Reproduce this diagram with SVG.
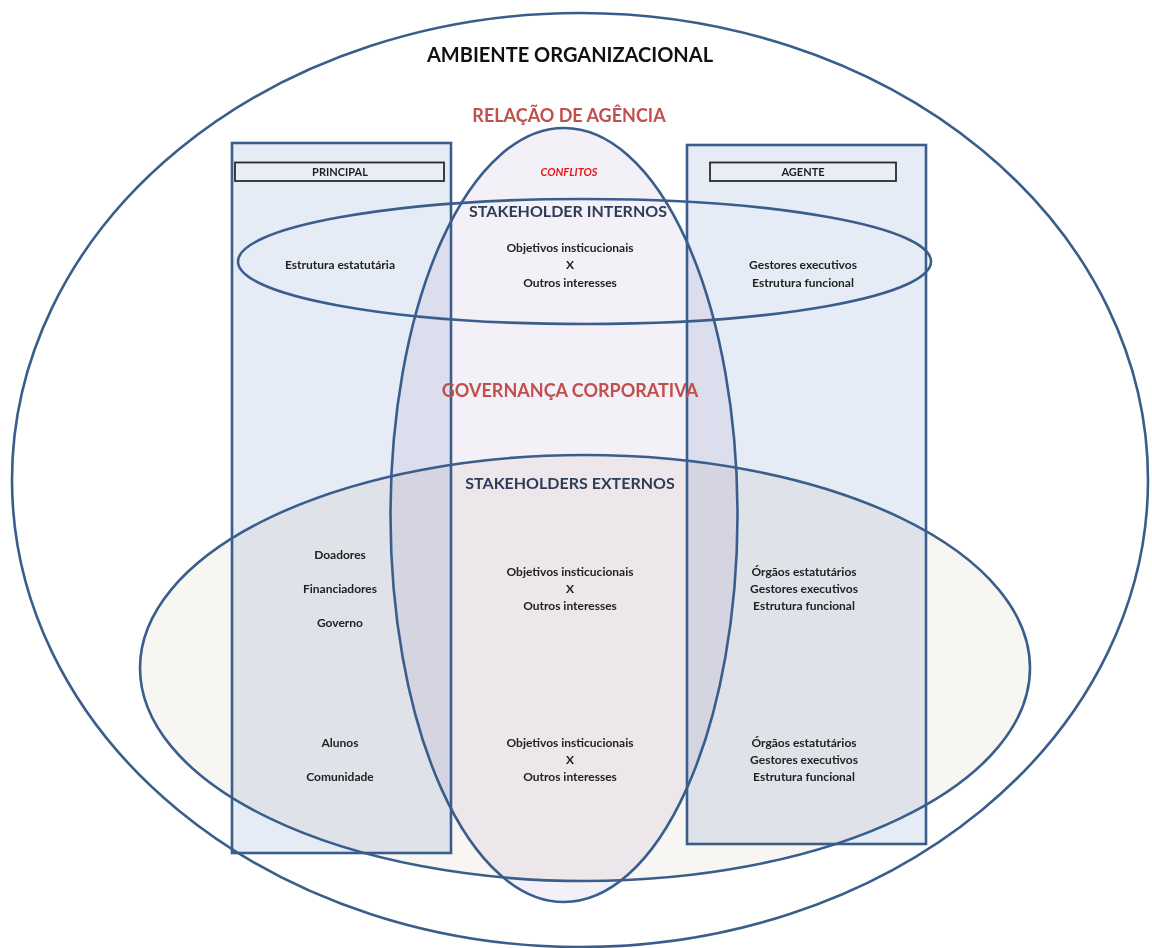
<svg xmlns="http://www.w3.org/2000/svg" width="1152" height="948" viewBox="0 0 1152 948">
  <style>
    .fillm { mix-blend-mode: multiply; stroke: none; }
    .edge { fill: none; stroke: #3a5e8c; stroke-width: 2.6; }
    .lbl { fill: #e9eef6; stroke: #2b2b2b; stroke-width: 1.8; }
    text { font-family: Lato, "Open Sans", "Liberation Sans", sans-serif; font-weight: 700; text-anchor: middle; }
    .body { font-size: 12px; fill: #222222; }
    .hdr { font-size: 11px; fill: #1e1e1e; }
    .title { font-size: 20px; fill: #111111; }
    .red { font-size: 18px; fill: #c0504d; }
    .sh { font-size: 16px; fill: #2e3c58; }
    .conf { font-size: 11px; fill: #e3171e; font-style: italic; }
  </style>

  <rect width="1152" height="948" fill="#ffffff"/>

  <!-- area fills (multiplied so overlaps darken) -->
  <g id="fills">
    <ellipse id="fill-ambiente" cx="580" cy="480" rx="568" ry="467" fill="#ffffff"/>
    <ellipse id="fill-externos" cx="585" cy="668" rx="445" ry="213" fill="#f8f6f3"/>
    <rect id="fill-principal" class="fillm" x="232" y="143" width="219" height="710" fill="#e6ecf5"/>
    <rect id="fill-agente" class="fillm" x="687" y="145" width="239" height="699" fill="#e6ecf5"/>
    <ellipse id="fill-governanca" class="fillm" cx="564" cy="515" rx="173.5" ry="387" fill="#f4f0f8"/>
  </g>

  <!-- outlines -->
  <g id="connectors">
    <ellipse id="ambiente" class="edge" cx="580" cy="480" rx="568" ry="467"/>
    <ellipse id="externos" class="edge" cx="585" cy="668" rx="445" ry="213"/>
    <rect id="principal" class="edge" x="232" y="143" width="219" height="710"/>
    <rect id="agente" class="edge" x="687" y="145" width="239" height="699"/>
    <ellipse id="governanca" class="edge" cx="564" cy="515" rx="173.5" ry="387"/>
    <ellipse id="internos" class="edge" cx="584.5" cy="261.5" rx="346.5" ry="62.5"/>
  </g>

  <g id="titles">
    <text class="title" x="570" y="62">AMBIENTE ORGANIZACIONAL</text>
    <text class="red" x="569" y="122">RELAÇÃO DE AGÊNCIA</text>
    <text class="conf" x="569" y="176">CONFLITOS</text>
    <text class="sh" x="568" y="217">STAKEHOLDER INTERNOS</text>
    <text class="red" x="570" y="397">GOVERNANÇA CORPORATIVA</text>
    <text class="sh" x="570" y="489">STAKEHOLDERS EXTERNOS</text>
  </g>

  <g id="node-principal-label">
    <rect class="lbl" x="235" y="162.5" width="209" height="18.5"/>
    <text class="hdr" x="340" y="176">PRINCIPAL</text>
  </g>
  <g id="node-agente-label">
    <rect class="lbl" x="710" y="162.5" width="186" height="18.5"/>
    <text class="hdr" x="803" y="176">AGENTE</text>
  </g>

  <g id="node-internos-principal">
    <text class="body" x="340" y="269">Estrutura estatutária</text>
  </g>
  <g id="node-internos-conflito">
    <text class="body" x="570" y="252">Objetivos insticucionais</text>
    <text class="body" x="570" y="269">X</text>
    <text class="body" x="570" y="287">Outros interesses</text>
  </g>
  <g id="node-internos-agente">
    <text class="body" x="803" y="269">Gestores executivos</text>
    <text class="body" x="803" y="287">Estrutura funcional</text>
  </g>

  <g id="node-externos-principal-1">
    <text class="body" x="340" y="559">Doadores</text>
    <text class="body" x="340" y="593">Financiadores</text>
    <text class="body" x="340" y="627">Governo</text>
  </g>
  <g id="node-externos-conflito-1">
    <text class="body" x="570" y="576">Objetivos insticucionais</text>
    <text class="body" x="570" y="593">X</text>
    <text class="body" x="570" y="610">Outros interesses</text>
  </g>
  <g id="node-externos-agente-1">
    <text class="body" x="804" y="576">Órgãos estatutários</text>
    <text class="body" x="804" y="593">Gestores executivos</text>
    <text class="body" x="804" y="610">Estrutura funcional</text>
  </g>

  <g id="node-externos-principal-2">
    <text class="body" x="340" y="747">Alunos</text>
    <text class="body" x="340" y="781">Comunidade</text>
  </g>
  <g id="node-externos-conflito-2">
    <text class="body" x="570" y="747">Objetivos insticucionais</text>
    <text class="body" x="570" y="764">X</text>
    <text class="body" x="570" y="781">Outros interesses</text>
  </g>
  <g id="node-externos-agente-2">
    <text class="body" x="804" y="747">Órgãos estatutários</text>
    <text class="body" x="804" y="764">Gestores executivos</text>
    <text class="body" x="804" y="781">Estrutura funcional</text>
  </g>
</svg>
